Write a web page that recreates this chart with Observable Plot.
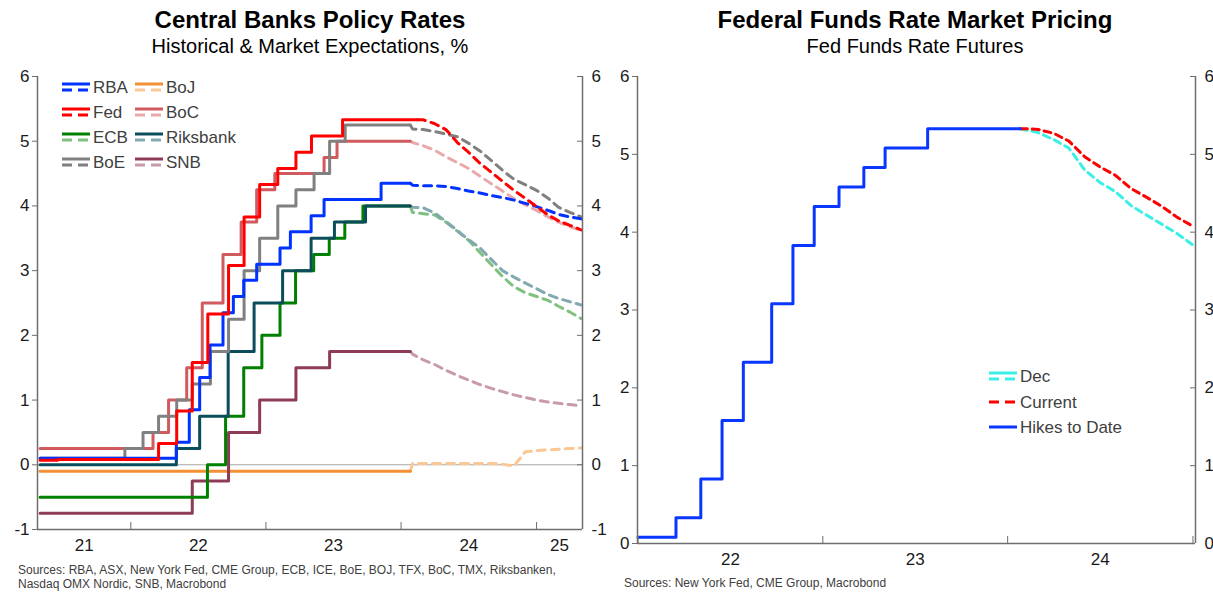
<!DOCTYPE html>
<html><head><meta charset="utf-8">
<script src="https://cdn.jsdelivr.net/npm/d3@7"></script>
<script src="https://cdn.jsdelivr.net/npm/@observablehq/plot@0.6"></script>
<style>
body{margin:0;background:#fff;font-family:"Liberation Sans",Arial,sans-serif;}
#wrap{position:relative;width:1213px;height:594px;overflow:hidden;background:#fff;}
.abs{position:absolute;}
.title{font-weight:bold;font-size:24px;line-height:28px;color:#000;white-space:nowrap;transform:translateX(-50%);}
.sub{font-size:20px;line-height:24px;color:#000;white-space:nowrap;transform:translateX(-50%);}
.src{font-size:12px;line-height:14px;color:#404040;white-space:nowrap;}
svg{overflow:visible;}
</style></head><body><div id="wrap"></div><script>
// ---------- DATA ----------
// Historical policy rates: [date, rate %] at each change
const rbaHist = [["2021-05-01",0.10],["2022-05-04",0.35],["2022-06-08",0.85],["2022-07-06",1.35],["2022-08-03",1.85],["2022-09-07",2.35],["2022-10-05",2.60],["2022-11-02",2.85],["2022-12-07",3.10],["2023-02-08",3.35],["2023-03-08",3.60],["2023-05-03",3.85],["2023-06-07",4.10],["2023-11-08",4.35],["2024-01-26",4.35]];
const fedHikeDates = ["2022-03-17","2022-05-05","2022-06-16","2022-07-28","2022-09-22","2022-11-03","2022-12-15","2023-02-02","2023-03-23","2023-05-04","2023-07-27"];
const fedHikeRates = [0.33,0.83,1.58,2.33,3.08,3.83,4.33,4.58,4.83,5.08,5.33];
const fedEarly = [["2021-05-01",0.07],["2021-06-17",0.08]];
const ecbHist = [["2021-05-01",-0.50],["2022-07-27",0.00],["2022-09-14",0.75],["2022-11-02",1.50],["2022-12-21",2.00],["2023-02-08",2.50],["2023-03-22",3.00],["2023-05-10",3.25],["2023-06-21",3.50],["2023-08-02",3.75],["2023-09-20",4.00],["2024-01-26",4.00]];
const boeHist = [["2021-05-01",0.10],["2021-12-16",0.25],["2022-02-03",0.50],["2022-03-17",0.75],["2022-05-05",1.00],["2022-06-16",1.25],["2022-08-04",1.75],["2022-09-22",2.25],["2022-11-03",3.00],["2022-12-15",3.50],["2023-02-02",4.00],["2023-03-23",4.25],["2023-05-11",4.50],["2023-06-22",5.00],["2023-08-03",5.25],["2024-01-26",5.25]];
const bojHist = [["2021-05-01",-0.10],["2024-01-26",-0.10]];
const bocHist = [["2021-05-01",0.25],["2022-03-02",0.50],["2022-04-13",1.00],["2022-06-01",1.50],["2022-07-13",2.50],["2022-09-07",3.25],["2022-10-26",3.75],["2022-12-07",4.25],["2023-01-25",4.50],["2023-06-07",4.75],["2023-07-12",5.00],["2024-01-26",5.00]];
const riksHist = [["2021-05-01",0.00],["2022-05-04",0.25],["2022-07-06",0.75],["2022-09-21",1.75],["2022-11-30",2.50],["2023-02-15",3.00],["2023-05-03",3.50],["2023-07-05",3.75],["2023-09-27",4.00],["2024-01-26",4.00]];
const snbHist = [["2021-05-01",-0.75],["2022-06-16",-0.25],["2022-09-22",0.50],["2022-12-15",1.00],["2023-03-23",1.50],["2023-06-22",1.75],["2024-01-26",1.75]];

// Market expectations, monthly Feb-2024 .. May-2025
const fcstMonths = ["2024-02-01","2024-03-01","2024-04-01","2024-05-01","2024-06-01","2024-07-01","2024-08-01","2024-09-01","2024-10-01","2024-11-01","2024-12-01","2025-01-01","2025-02-01","2025-03-01","2025-04-01","2025-05-01"];
const rbaFcst  = [4.32,4.31,4.31,4.30,4.27,4.23,4.20,4.16,4.13,4.09,4.04,3.99,3.93,3.87,3.83,3.80];
const fedFcst  = [5.33,5.33,5.27,5.18,4.98,4.83,4.66,4.52,4.38,4.24,4.12,3.99,3.86,3.77,3.70,3.63];
const ecbFcst  = [3.90,3.88,3.86,3.75,3.61,3.47,3.28,3.09,2.91,2.75,2.66,2.60,2.54,2.45,2.36,2.26];
const boeFcst  = [5.19,5.18,5.15,5.11,5.07,4.97,4.85,4.70,4.55,4.41,4.33,4.24,4.12,3.98,3.90,3.83];
const bojFcst  = [0.02,0.02,0.02,0.02,0.02,0.02,0.02,0.02,0.01,-0.02,0.20,0.22,0.23,0.24,0.25,0.26];
const bocFcst  = [4.98,4.93,4.86,4.76,4.67,4.58,4.46,4.34,4.23,4.11,4.02,3.93,3.83,3.75,3.68,3.62];
const riksFcst = [3.98,3.97,3.89,3.76,3.62,3.48,3.35,3.17,3.00,2.90,2.81,2.72,2.63,2.57,2.52,2.47];
const snbFcst  = [1.71,1.62,1.55,1.46,1.38,1.31,1.24,1.18,1.13,1.08,1.04,1.00,0.97,0.95,0.93,0.91];

// Right chart: Fed funds futures
const ffStart = ["2022-01-01",0.08];
const ffEnd = ["2024-01-26",5.33];
const ffMonths = ["2024-01-26","2024-02-01","2024-03-01","2024-04-01","2024-05-01","2024-06-01","2024-07-01","2024-08-01","2024-09-01","2024-10-01","2024-11-01","2024-12-01","2024-12-31"];
const ffCurrent = [5.33,5.33,5.32,5.27,5.17,4.97,4.84,4.73,4.56,4.45,4.33,4.19,4.08];
const ffDec     = [5.33,5.32,5.28,5.19,5.08,4.80,4.64,4.52,4.34,4.22,4.10,3.98,3.84];

const yTicksLeft = [-1,0,1,2,3,4,5,6];
const yTicksRight = [0,1,2,3,4,5,6];

// ---------- HELPERS ----------
const parse = d3.utcParse("%Y-%m-%d");
const rows = pairs => pairs.map(([d, v]) => ({date: parse(d), value: v}));
const zipRows = (dates, vals) => dates.map((d, i) => ({date: parse(d), value: vals[i]}));
const fedHistPairs = [...fedEarly, ...fedHikeDates.map((d, i) => [d, fedHikeRates[i]]), ["2024-02-14", 5.33]];

const banks = [
  {name:"BoJ", hist:bojHist, fc:bojFcst, c:"#f39033", cd:"#fbc794"},
  {name:"SNB", hist:snbHist, fc:snbFcst, c:"#8e3c55", cd:"#c89ba8"},
  {name:"ECB", hist:ecbHist, fc:ecbFcst, c:"#008000", cd:"#80c080"},
  {name:"Riksbank", hist:riksHist, fc:riksFcst, c:"#0b4d5a", cd:"#83a9b0"},
  {name:"BoC", hist:bocHist, fc:bocFcst, c:"#d05a5e", cd:"#e9a9ab"},
  {name:"BoE", hist:boeHist, fc:boeFcst, c:"#808080", cd:"#808080"},
  {name:"RBA", hist:rbaHist, fc:rbaFcst, c:"#0033ff", cd:"#0033ff"},
  {name:"Fed", hist:fedHistPairs, fc:fedFcst, c:"#ff0000", cd:"#ff0000"}
];

function yearLabelDates(domain, minYear) {
  const out = [];
  for (let y = Math.max(minYear, domain[0].getUTCFullYear()); y <= domain[1].getUTCFullYear(); y++) {
    const a = Math.max(+domain[0], Date.UTC(y,0,1)), b = Math.min(+domain[1], Date.UTC(y+1,0,1));
    if (b > a) out.push(new Date((a + b) / 2));
  }
  return out;
}
function yearBoundaries(domain) {
  return d3.utcYear.range(d3.utcYear.ceil(new Date(+domain[0] + 864e5)), new Date(+domain[1] + 1));
}

const FONT = "'Liberation Sans', Arial, sans-serif";
const AX = "#6e6e6e";
const wrap = document.getElementById("wrap");

// ---------- LEFT CHART ----------
{
  const W = 606, H = 594, mL = 37, mR = 24, mT = 76, mB = 65;
  const xDom = [parse("2021-04-24"), parse("2025-05-05")];
  const marks = [
    Plot.ruleY([0], {stroke: "#a6a6a6", strokeWidth: 1})
  ];
  for (const b of banks) {
    const h = rows(b.hist);
    const last = h[h.length - 1];
    const f = [last, ...zipRows(fcstMonths, b.fc).filter(d => d.date > last.date)];
    marks.push(Plot.line(f, {x: "date", y: "value", stroke: b.cd, strokeWidth: 3, strokeDasharray: "8,6", curve: "linear"}));
    marks.push(Plot.line(h, {x: "date", y: "value", stroke: b.c, strokeWidth: 3, curve: "step-after"}));
  }
  marks.push(
    Plot.ruleX(xDom, {stroke: AX, strokeWidth: 1.5}),
    Plot.ruleY([-1], {stroke: AX, strokeWidth: 1.5}),
    Plot.tickX(yearBoundaries(xDom), {x: d => d, stroke: AX, strokeWidth: 1, insetTop: H - mT - mB - 7}),
    Plot.tickY(yTicksLeft, {y: d => d, stroke: AX, strokeWidth: 1, insetLeft: W - mL - mR - 5}),
    Plot.axisY(yTicksLeft, {anchor: "left", label: null, tickSize: 5, tickPadding: 3, stroke: AX, tickFormat: d => String(d), fontSize: 17, fill: "#1a1a1a"}),
    Plot.axisY(yTicksLeft, {anchor: "right", label: null, tickSize: 0, tickPadding: 9, tickFormat: d => String(d), fontSize: 17, fill: "#1a1a1a"}),
    Plot.axisX(yearLabelDates(xDom, 2021), {anchor: "bottom", label: null, tickSize: 0, tickPadding: 9, tickFormat: d3.utcFormat("%y"), fontSize: 17, fill: "#1a1a1a"})
  );
  const p = Plot.plot({
    width: W, height: H, marginLeft: mL, marginRight: mR, marginTop: mT, marginBottom: mB,
    x: {type: "utc", domain: xDom, label: null},
    y: {domain: [-1, 6], label: null},
    style: {fontFamily: FONT, background: "transparent", overflow: "visible"},
    marks
  });
  p.style.position = "absolute"; p.style.left = "0px"; p.style.top = "0px";
  wrap.appendChild(p);
}

// ---------- RIGHT CHART ----------
{
  const W = 607, H = 594, mL = 31, mR = 18, mT = 76, mB = 51;
  const xDom = [parse("2021-12-31"), parse("2025-01-06")];
  const hist = rows([ffStart, ...fedHikeDates.map((d, i) => [d, fedHikeRates[i]]), ffEnd]);
  const p = Plot.plot({
    width: W, height: H, marginLeft: mL, marginRight: mR, marginTop: mT, marginBottom: mB,
    x: {type: "utc", domain: xDom, label: null},
    y: {domain: [0, 6], label: null},
    style: {fontFamily: FONT, background: "transparent", overflow: "visible"},
    marks: [
      Plot.line(zipRows(ffMonths, ffDec), {x: "date", y: "value", stroke: "#3cefe6", strokeWidth: 3, strokeDasharray: "7,5"}),
      Plot.line(zipRows(ffMonths, ffCurrent), {x: "date", y: "value", stroke: "#ff0000", strokeWidth: 3, strokeDasharray: "7,5"}),
      Plot.line(hist, {x: "date", y: "value", stroke: "#0a37ff", strokeWidth: 3, curve: "step-after"}),
      Plot.ruleX(xDom, {stroke: AX, strokeWidth: 1.5}),
      Plot.ruleY([0], {stroke: AX, strokeWidth: 1.5}),
      Plot.tickX(yearBoundaries(xDom), {x: d => d, stroke: AX, strokeWidth: 1, insetTop: H - mT - mB - 7}),
      Plot.tickY(yTicksRight, {y: d => d, stroke: AX, strokeWidth: 1, insetLeft: W - mL - mR - 5}),
      Plot.axisY(yTicksRight, {anchor: "left", label: null, tickSize: 5, tickPadding: 3, stroke: AX, tickFormat: d => String(d), fontSize: 17, fill: "#1a1a1a"}),
      Plot.axisY(yTicksRight, {anchor: "right", label: null, tickSize: 0, tickPadding: 9, tickFormat: d => String(d), fontSize: 17, fill: "#1a1a1a"}),
      Plot.axisX(yearLabelDates(xDom, 2022).filter(d => d.getUTCFullYear() < 2025), {anchor: "bottom", label: null, tickSize: 0, tickPadding: 9, tickFormat: d3.utcFormat("%y"), fontSize: 17, fill: "#1a1a1a"})
    ]
  });
  p.style.position = "absolute"; p.style.left = "606px"; p.style.top = "0px";
  wrap.appendChild(p);
}

// ---------- TEXT ----------
function addDiv(cls, text, left, top) {
  const d = document.createElement("div");
  d.className = "abs " + cls; d.textContent = text;
  d.style.left = left + "px"; d.style.top = top + "px";
  wrap.appendChild(d); return d;
}
addDiv("title", "Central Banks Policy Rates", 310, 6);
addDiv("sub", "Historical & Market Expectations, %", 310, 34);
addDiv("title", "Federal Funds Rate Market Pricing", 915, 6);
addDiv("sub", "Fed Funds Rate Futures", 915, 34);
const s1 = addDiv("src", "", 18, 563);
s1.innerHTML = "Sources: RBA, ASX, New York Fed, CME Group, ECB, ICE, BoE, BOJ, TFX, BoC, TMX, Riksbanken,<br>Nasdaq OMX Nordic, SNB, Macrobond";
addDiv("src", "Sources: New York Fed, CME Group, Macrobond", 624, 576);

// ---------- LEGENDS ----------
const NS = "http://www.w3.org/2000/svg";
const lg = document.createElementNS(NS, "svg");
lg.setAttribute("width", 1213); lg.setAttribute("height", 594);
lg.style.position = "absolute"; lg.style.left = "0"; lg.style.top = "0"; lg.style.pointerEvents = "none";
wrap.appendChild(lg);
function seg(x1, y, x2, color, dash) {
  const l = document.createElementNS(NS, "line");
  l.setAttribute("x1", x1); l.setAttribute("x2", x2); l.setAttribute("y1", y); l.setAttribute("y2", y);
  l.setAttribute("stroke", color); l.setAttribute("stroke-width", 3);
  if (dash) l.setAttribute("stroke-dasharray", dash);
  lg.appendChild(l);
}
function label(x, y, t) {
  const e = document.createElementNS(NS, "text");
  e.setAttribute("x", x); e.setAttribute("y", y); e.setAttribute("dy", "0.36em");
  e.setAttribute("font-family", FONT); e.setAttribute("font-size", 17); e.setAttribute("fill", "#404040");
  e.textContent = t; lg.appendChild(e);
}
const legOrder = [["RBA",0,0],["Fed",0,1],["ECB",0,2],["BoE",0,3],["BoJ",1,0],["BoC",1,1],["Riksbank",1,2],["SNB",1,3]];
for (const [n, col, row] of legOrder) {
  const b = banks.find(d => d.name === n);
  const x = col ? 135 : 62, y = 87 + row * 25;
  seg(x, y - 3, x + 28, b.c);
  seg(x, y + 3, x + 28, b.cd, "10,6");
  label(x + 31, y, n);
}
seg(989, 373, 1017, "#3cefe6"); seg(989, 379, 1017, "#3cefe6", "10,6"); label(1020, 376, "Dec");
seg(989, 402, 1017, "#ff0000", "10,6"); label(1020, 402, "Current");
seg(989, 427, 1017, "#0a37ff"); label(1020, 427, "Hikes to Date");
</script></body></html>
